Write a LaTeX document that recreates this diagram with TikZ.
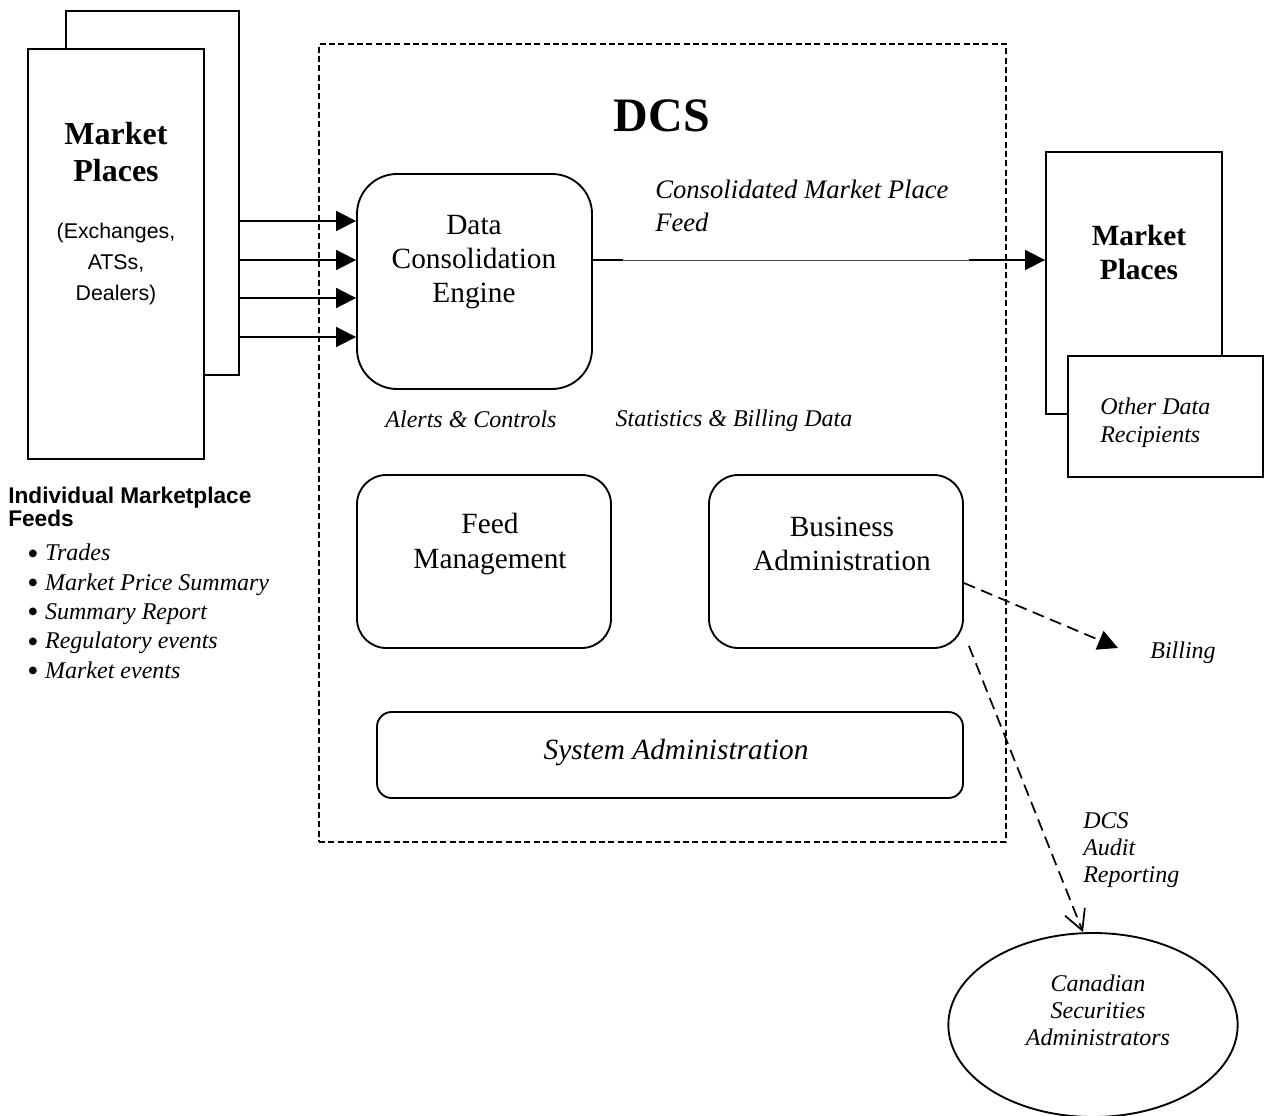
\documentclass[tikz,border=0pt]{standalone}
\usepackage{fontspec}
\setmainfont{Liberation Serif}
\setsansfont{Liberation Sans}
\usetikzlibrary{arrows.meta,calc,fit,shapes.geometric}

\newcommand{\feedbullet}{\raisebox{-2.5pt}{\fontsize{24}{0}\selectfont\textbullet}\hspace{5pt}}

\begin{document}
\begin{tikzpicture}[x=0.75pt,y=-0.75pt,
  box/.style={draw, line width=1.4pt, inner sep=0pt, fill=white},
  rbox/.style={box, rounded corners=#1},
  txt/.style={inner sep=0pt, align=center},
  lbl/.style={txt, font=\itshape\fontsize{18}{20.5}\selectfont},
  feedarrow/.style={line width=1.4pt, -{Triangle[length=15pt,width=15pt]}},
  dasharrow/.style={line width=1.3pt, dash pattern=on 9pt off 5pt}
]
\useasboundingbox (0,0) rectangle (1265,1116);

% DCS system boundary
\node[fit={(319,44) (1006,842)}, draw, inner sep=0pt, line width=0.9pt,
      dash pattern=on 4.5pt off 2.5pt] (dcs) {};
\node[txt, font=\bfseries\fontsize{36}{40}\selectfont] at (662,116) {DCS};

% source market places (stacked pages)
\node[box, fit={(66,11) (239,375)}] (mpb) {};
\node[box, fit={(28,49) (204,459)}] (mpf) {};
\node[txt, font=\bfseries\fontsize{24}{27.75}\selectfont] at (116,152) {Market\\Places};
\node[txt, font=\sffamily\fontsize{16}{23.5}\selectfont] at (116,264) {(Exchanges,\\ATSs,\\Dealers)};

% consolidation engine
\node[rbox=30pt, fit={(357,174) (592,389)}] (dce) {};
\node[txt, font=\fontsize{22}{25.5}\selectfont] at (474,262) {Data\\Consolidation\\Engine};

% incoming individual feeds
\foreach \yy in {221,260,298,337}
  \draw[feedarrow] (mpb.east |- 0,\yy) -- (dce.west |- 0,\yy);

% destination market places and other recipients
\node[box, fit={(1046,152) (1222,414)}] (mpr) {};
\node[box, fit={(1068,356) (1263,477)}] (odr) {};
\node[txt, font=\bfseries\fontsize{22}{25.5}\selectfont] at (1139,252) {Market\\Places};
\node[txt, align=left, anchor=west, font=\itshape\fontsize{18}{21}\selectfont] at (1100,423) {Other Data\\Recipients};

% consolidated feed
\coordinate (cfs) at ($(dce.east)+(0,-21.5)$);
\coordinate (cfe) at (mpr.west |- cfs);
\draw[line width=0.7pt, draw=black!70] (cfs) -- (cfe);
\draw[line width=1.4pt] (cfs) -- ++(30,0);
\draw[feedarrow] ($(cfe)+(-76,0)$) -- (cfe);
\node[txt, align=left, anchor=west, font=\itshape\fontsize{20}{24.5}\selectfont] at (655,206) {Consolidated Market Place\\Feed};

\node[lbl] at (471,419) {Alerts \& Controls};
\node[lbl] at (734,421) {Statistics \& Billing Data};

% management blocks
\node[rbox=22pt, fit={(357,475) (611,648)}] (fm) {};
\node[txt, font=\fontsize{22}{26}\selectfont] at (490,544) {Feed\\Management};
\node[rbox=22pt, fit={(709,475) (963,648)}] (biz) {};
\node[txt, font=\fontsize{22}{26}\selectfont] at (842,544) {Business\\Administration};
\node[rbox=11pt, fit={(377,712) (963,798)}] (sysad) {};
\node[txt, font=\itshape\fontsize{22}{26}\selectfont] at (676,752) {System Administration};

% billing output
\node[lbl] (billing) at (1183,653) {Billing};
\coordinate (billtip) at (1118,648);
\draw[dasharrow, -{Triangle[length=15pt,width=15pt]}] ($(biz.east)+(0,21.5)$) -- (billtip);

% regulator
\node[draw, ellipse, line width=1.4pt, inner sep=0pt,
      minimum width=217pt, minimum height=138pt] (csa) at (1093,1025) {};
\node[lbl, font=\itshape\fontsize{18}{20.25}\selectfont] at (1098,1010) {Canadian\\Securities\\Administrators};
\draw[dasharrow, -{Straight Barb[length=15pt,width=16pt]}]
  ($(biz.south east)+(5,-3)$) -- ($(csa.north)+(-10,0)$);
\node[lbl, align=left, anchor=west, font=\itshape\fontsize{18}{20.25}\selectfont] at (1083,850) {DCS\\Audit\\Reporting};

% feed contents
\node[txt, align=left, anchor=west, font=\sffamily\bfseries\fontsize{17}{17.5}\selectfont] at (8,507) {Individual Marketplace\\Feeds};
\node[txt, align=left, anchor=west, font=\fontsize{18}{22}\selectfont] at (27,613)
  {\feedbullet\textit{Trades}\\
   \feedbullet\textit{Market Price Summary}\\
   \feedbullet\textit{Summary Report}\\
   \feedbullet\textit{Regulatory events}\\
   \feedbullet\textit{Market events}};
\end{tikzpicture}
\end{document}
